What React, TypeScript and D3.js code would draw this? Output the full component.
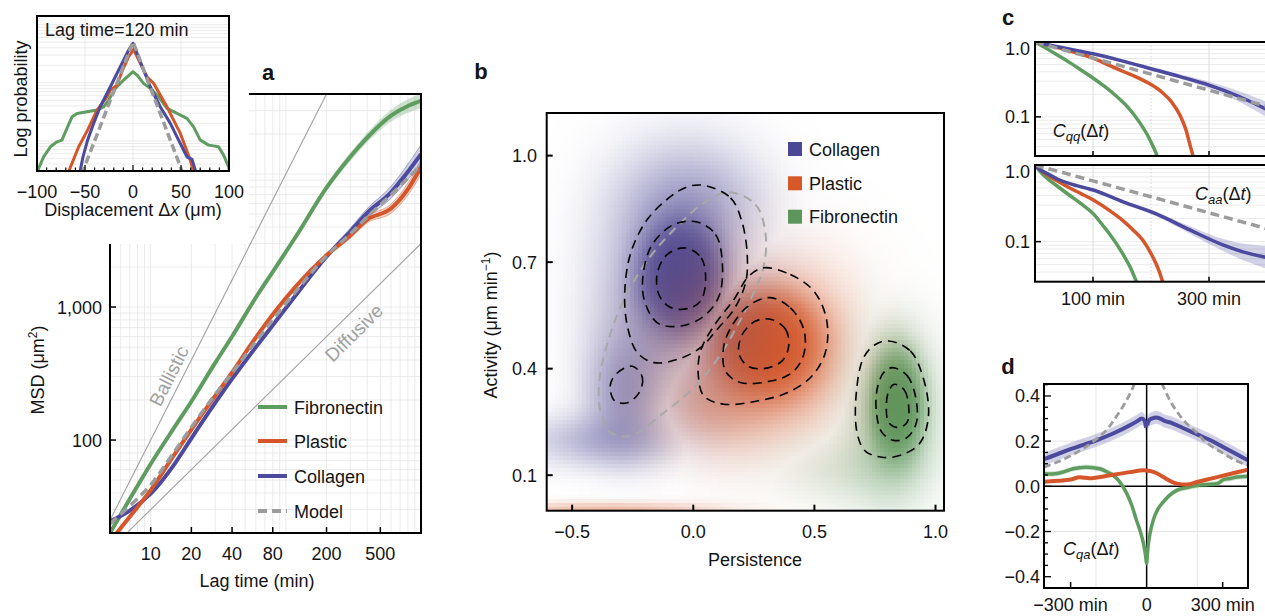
import React from 'react';
import * as d3 from 'd3';

const FONT = '"Liberation Sans", Arial, Helvetica, sans-serif';
const COL = '#4B4A9E';
const PLA = '#D5562A';
const FIB = '#5E9C60';
const MODEL = '#9c9c9c';
const GRID = '#e6e6e6';
const REF = '#a0a0a0';

// ---------------- Panel a : MSD ----------------
const msdLag = [5, 7, 10, 15, 20, 30, 40, 60, 80, 120, 200, 300, 400, 600, 800, 1000];
const msdFibronectin = [20, 36, 66, 125, 195, 380, 600, 1180, 1840, 3450, 7900, 13500, 18800, 27500, 32500, 35500];
const msdPlastic = [17.3, 26.5, 42, 78, 120, 215, 322, 590, 880, 1450, 2450, 3450, 4550, 5500, 7700, 11300];
const msdCollagen = [24.5, 29.5, 39.5, 66, 103, 190, 288, 500, 730, 1250, 2400, 3700, 5100, 7300, 10400, 14100];
const msdModel = [23.5, 32, 46, 82, 125, 220, 320, 550, 800, 1330, 2430, 3550, 4750, 7000, 9300, 11700];
const bandFibronectin = [0.01, 0.01, 0.01, 0.01, 0.01, 0.011, 0.012, 0.014, 0.016, 0.02, 0.026, 0.032, 0.037, 0.044, 0.05, 0.055];
const bandPlastic = [0.008, 0.008, 0.008, 0.008, 0.008, 0.008, 0.009, 0.01, 0.011, 0.012, 0.015, 0.02, 0.025, 0.035, 0.045, 0.055];
const bandCollagen = [0.008, 0.008, 0.008, 0.008, 0.008, 0.008, 0.009, 0.01, 0.012, 0.014, 0.018, 0.025, 0.033, 0.045, 0.058, 0.07];
const refLag = [4, 1200];
const ballisticMSD = [16, 1440000];
const diffusiveMSD = [12, 3600];
const lagTicks = [10, 20, 40, 80, 200, 500];
const msdTicks = [100, 1000];
const msdTickLabels = ['100', '1,000'];

// ---------------- Inset : displacement distribution ----------------
const dispCollagen = [-57, -54.9, -52.1, -47.3, -41, -34.1, -23.6, -13.2, -4.5, 0, 4.2, 11, 18, 28.4, 38.9, 45.8, 51, 56.2, 61.5, 64.9, 67];
const logpCollagen = [-3.75, -3.505, -3.276, -2.988, -2.7, -2.414, -2.069, -1.724, -1.436, -1.321, -1.493, -1.781, -2.069, -2.414, -2.7, -2.931, -3.103, -3.276, -3.32, -3.505, -3.75];
const dispPlastic = [-68, -66.4, -56.6, -47.3, -37.5, -32.3, -27.1, -23.6, -16.7, -11.5, -4.5, 0.6, 7.6, 14.6, 21.5, 28.4, 35.4, 42.3, 49.3, 54.5, 59.7, 62.5, 64];
const logpPlastic = [-3.7, -3.505, -3.103, -2.816, -2.471, -2.355, -2.241, -2.126, -2.04, -1.81, -1.552, -1.424, -1.666, -1.897, -2.01, -2.212, -2.414, -2.643, -2.873, -3.103, -3.333, -3.505, -3.7];
const dispFibronectin = [-100, -98.3, -93.1, -86.1, -79.2, -74, -68.8, -63.5, -58.3, -47.9, -37.5, -30.6, -25.4, -18.4, -9.8, 0, 4.2, 11, 18, 26.7, 35.4, 45.8, 56.2, 63.1, 70.1, 78.8, 89.2, 94.4, 99.6, 101];
const logpFibronectin = [-3.6, -3.476, -3.276, -3.103, -3.017, -2.988, -2.787, -2.586, -2.528, -2.5, -2.471, -2.414, -2.298, -2.097, -1.953, -1.81, -1.867, -2.01, -2.097, -2.241, -2.441, -2.528, -2.614, -2.759, -2.988, -3.074, -3.103, -3.247, -3.448, -3.55];
const dispModel = [-58, 0, 56];
const logpModel = [-3.77, -1.293, -3.735];
const dispTicks = [-100, -50, 0, 50, 100];

// ---------------- Panel b : persistence / activity ----------------
// density components per substrate: [persistence, activity, sdP, sdA, weight]
const collagenBlobs = [
  [-0.05, 0.66, 0.09, 0.085, 2.5],
  [-0.05, 0.65, 0.2, 0.2, 0.5],
  [-0.28, 0.33, 0.1, 0.1, 0.4],
  [-0.2, 0.45, 0.15, 0.15, 0.15],
  [-0.36, 0.2, 0.22, 0.05, 0.3],
  [0.0, 0.88, 0.2, 0.1, 0.2],
];
const plasticBlobs = [
  [0.3, 0.47, 0.12, 0.08, 2.5],
  [0.28, 0.45, 0.25, 0.17, 0.5],
  [0.05, 0.3, 0.15, 0.08, 0.3],
  [-0.35, 0.0, 0.3, 0.016, 0.35],
];
const fibronectinBlobs = [
  [0.84, 0.3, 0.055, 0.08, 2.5],
  [0.82, 0.28, 0.12, 0.15, 0.5],
  [0.6, 0.12, 0.2, 0.07, 0.15],
];
const collagenContours = [
  [[0.044, 0.916], [0.154, 0.881], [0.202, 0.811], [0.223, 0.717], [0.216, 0.642], [0.168, 0.567], [0.099, 0.511], [0.03, 0.459], [-0.066, 0.426], [-0.162, 0.417], [-0.231, 0.445], [-0.272, 0.52], [-0.283, 0.614], [-0.258, 0.726], [-0.19, 0.82], [-0.093, 0.885], [-0.025, 0.912]],
  [[0.016, 0.813], [0.092, 0.778], [0.12, 0.698], [0.106, 0.604], [0.044, 0.548], [-0.052, 0.52], [-0.148, 0.529], [-0.203, 0.595], [-0.206, 0.67], [-0.169, 0.75], [-0.08, 0.806]],
  [[-0.032, 0.74], [0.033, 0.712], [0.051, 0.651], [0.03, 0.59], [-0.025, 0.569], [-0.093, 0.572], [-0.142, 0.609], [-0.148, 0.67], [-0.107, 0.722]],
  [[-0.251, 0.407], [-0.21, 0.375], [-0.224, 0.332], [-0.272, 0.304], [-0.324, 0.309], [-0.343, 0.351], [-0.32, 0.384]],
];
const plasticContours = [
  [[0.291, 0.684], [0.401, 0.665], [0.497, 0.619], [0.55, 0.539], [0.545, 0.445], [0.484, 0.375], [0.387, 0.332], [0.264, 0.309], [0.126, 0.3], [0.044, 0.323], [0.021, 0.379], [0.03, 0.45], [0.085, 0.52], [0.168, 0.595], [0.23, 0.661]],
  [[0.319, 0.6], [0.401, 0.571], [0.456, 0.511], [0.456, 0.44], [0.408, 0.389], [0.319, 0.365], [0.195, 0.361], [0.133, 0.393], [0.126, 0.464], [0.168, 0.53], [0.236, 0.581]],
  [[0.319, 0.539], [0.381, 0.511], [0.394, 0.464], [0.367, 0.422], [0.291, 0.4], [0.223, 0.408], [0.188, 0.445], [0.202, 0.496], [0.257, 0.534]],
];
const fibronectinContours = [
  [[0.807, 0.478], [0.896, 0.45], [0.951, 0.37], [0.971, 0.267], [0.937, 0.192], [0.868, 0.159], [0.786, 0.15], [0.71, 0.168], [0.676, 0.22], [0.673, 0.332], [0.703, 0.431], [0.752, 0.468]],
  [[0.821, 0.403], [0.882, 0.381], [0.917, 0.323], [0.921, 0.248], [0.882, 0.206], [0.827, 0.198], [0.779, 0.22], [0.756, 0.276], [0.759, 0.342], [0.786, 0.389]],
  [[0.83, 0.356], [0.871, 0.34], [0.889, 0.295], [0.882, 0.248], [0.844, 0.234], [0.807, 0.248], [0.797, 0.295], [0.807, 0.337]],
];
const modelContour = [[0.147, 0.897], [0.257, 0.862], [0.298, 0.782], [0.291, 0.689], [0.243, 0.604], [0.181, 0.52], [0.099, 0.426], [0.003, 0.347], [-0.121, 0.276], [-0.258, 0.211], [-0.341, 0.22], [-0.385, 0.286], [-0.385, 0.379], [-0.341, 0.501], [-0.272, 0.614], [-0.176, 0.717], [-0.066, 0.801], [0.044, 0.867]];
const persTicks = [-0.5, 0, 0.5, 1.0];
const actTicks = [0.1, 0.4, 0.7, 1.0];

// ---------------- Panel c : autocorrelations ----------------
const cqqLagCollagen = [0, 25, 50, 75, 100, 150, 200, 250, 300, 350, 400, 420];
const cqqCollagen = [1, 0.91, 0.83, 0.76, 0.695, 0.56, 0.44, 0.345, 0.265, 0.19, 0.125, 0.105];
const cqqCollagenBand = [0, 0.005, 0.008, 0.01, 0.012, 0.016, 0.02, 0.03, 0.045, 0.07, 0.1, 0.11];
const cqqLagPlastic = [0, 25, 50, 75, 100, 125, 150, 175, 200, 220, 235, 250, 260, 268, 276];
const cqqPlastic = [1, 0.9, 0.8, 0.7, 0.61, 0.5, 0.41, 0.34, 0.27, 0.21, 0.16, 0.105, 0.068, 0.04, 0.024];
const cqqLagFibronectin = [0, 20, 40, 60, 80, 100, 120, 140, 160, 180, 195, 205, 216];
const cqqFibronectin = [1, 0.82, 0.66, 0.53, 0.42, 0.33, 0.255, 0.19, 0.135, 0.085, 0.055, 0.038, 0.024];
const cqqLagModel = [0, 100, 200, 300, 400, 420];
const cqqModel = [1, 0.61, 0.372, 0.227, 0.138, 0.125];

const caaLagCollagen = [0, 10, 20, 37, 60, 102, 152, 210, 267, 325, 360, 400, 420];
const caaCollagen = [1, 0.86, 0.78, 0.667, 0.57, 0.468, 0.33, 0.228, 0.142, 0.09, 0.073, 0.062, 0.058];
const caaCollagenBand = [0, 0.005, 0.007, 0.01, 0.012, 0.015, 0.02, 0.03, 0.05, 0.08, 0.11, 0.15, 0.17];
const caaLagPlastic = [0, 10, 20, 37, 60, 80, 102, 130, 152, 170, 187, 204, 212, 222];
const caaPlastic = [1, 0.85, 0.75, 0.63, 0.5, 0.42, 0.344, 0.25, 0.187, 0.14, 0.102, 0.061, 0.045, 0.027];
const caaLagFibronectin = [0, 10, 20, 37, 60, 80, 102, 115, 129, 152, 165, 175, 182];
const caaFibronectin = [1, 0.8, 0.68, 0.54, 0.4, 0.31, 0.225, 0.17, 0.125, 0.068, 0.045, 0.03, 0.023];
const caaLagModel = [0, 100, 200, 300, 400, 420];
const caaModel = [1, 0.62, 0.385, 0.238, 0.147, 0.133];
const corrTicks = [1.0, 0.1];
const corrLagTicks = [100, 300];

// ---------------- Panel d : cross-correlation ----------------
const cqaLagCollagenL = [-405, -330, -260, -198, -130, -66, -35, -20, -8, -2];
const cqaCollagenL = [0.12, 0.152, 0.18, 0.204, 0.235, 0.27, 0.29, 0.3, 0.29, 0.26];
const cqaLagCollagenR = [2, 8, 20, 40, 70, 100, 150, 200, 250, 300, 350, 400];
const cqaCollagenR = [0.27, 0.29, 0.3, 0.305, 0.29, 0.28, 0.255, 0.23, 0.205, 0.175, 0.145, 0.115];
const cqaLagModelL = [-405, -300, -198, -150, -119, -90, -70, -50, -35];
const cqaModelL = [0.085, 0.135, 0.21, 0.26, 0.31, 0.36, 0.4, 0.45, 0.5];
const cqaLagModelR = [40, 60, 92, 120, 159, 200, 225, 260, 304, 350, 400];
const cqaModelR = [0.5, 0.455, 0.38, 0.33, 0.277, 0.235, 0.204, 0.175, 0.145, 0.115, 0.093];
const cqaLagPlastic = [-405, -350, -300, -264, -225, -145, -66, -13, 13, 40, 66, 100, 119, 160, 198, 240, 278, 340, 400];
const cqaPlastic = [0.02, 0.025, 0.03, 0.04, 0.036, 0.049, 0.063, 0.071, 0.068, 0.058, 0.041, 0.02, 0.012, 0.008, 0.019, 0.03, 0.041, 0.058, 0.074];
const cqaLagFibronectin = [-405, -370, -330, -290, -238, -185, -150, -132, -110, -79, -60, -40, -25, -13, -5, 0, 3, 7, 15, 26, 45, 66, 90, 119, 160, 198, 240, 278, 304, 330, 357, 400];
const cqaFibronectin = [0.056, 0.055, 0.063, 0.078, 0.085, 0.078, 0.06, 0.049, 0.025, -0.03, -0.08, -0.15, -0.2, -0.25, -0.3, -0.342, -0.3, -0.254, -0.2, -0.15, -0.1, -0.069, -0.04, -0.018, -0.005, 0.004, 0.008, 0.012, 0.03, 0.035, 0.041, 0.045];
const cqaTicks = [0.4, 0.2, 0, -0.2, -0.4];
const cqaTickLabels = ['0.4', '0.2', '0.0', '\u22120.2', '\u22120.4'];
const cqaLagTicks = [-300, 0, 300];
const cqaLagTickLabels = ['\u2212300 min', '0', '300 min'];

function logGrid(lo: number, hi: number): number[] {
  const out: number[] = [];
  for (let e = Math.floor(Math.log10(lo)) - 1; e <= Math.ceil(Math.log10(hi)); e++) {
    for (let k = 1; k < 10; k++) {
      const v = k * Math.pow(10, e);
      if (v > lo * 1.001 && v < hi * 0.999) out.push(v);
    }
  }
  return out;
}

const T = (p: any) => <text fontFamily={FONT} fontSize={18} fill="#141414" {...p} />;

export default function App() {
  // ===== panel a =====
  const ax = d3.scaleLog().domain([5, 1000]).range([110, 421]);
  const ay = d3.scaleLog().domain([20, 40000]).range([533, 94]);
  const lineA = (vals: number[]) =>
    d3.line<number>().x((_, i) => ax(msdLag[i])).y((d) => ay(d)).curve(d3.curveMonotoneX)(vals) || '';
  const bandA = (vals: number[], err: number[]) =>
    d3.area<number>()
      .x((_, i) => ax(msdLag[i]))
      .y0((d, i) => ay(d / Math.pow(10, err[i])))
      .y1((d, i) => ay(d * Math.pow(10, err[i])))
      .curve(d3.curveMonotoneX)(vals) || '';
  const edgeA = (vals: number[], err: number[], s: number) =>
    d3.line<number>().x((_, i) => ax(msdLag[i])).y((d, i) => ay(d * Math.pow(10, s * err[i]))).curve(d3.curveMonotoneX)(vals) || '';
  const gridAx = logGrid(5, 1000);
  const gridAy = logGrid(20, 40000);
  const refLine = (vals: number[]) =>
    d3.line<number>().x((_, i) => ax(refLag[i])).y((d) => ay(d))(vals) || '';
  const balAng = (Math.atan2(ay(ballisticMSD[1]) - ay(ballisticMSD[0]), ax(refLag[1]) - ax(refLag[0])) * 180) / Math.PI;
  const difAng = (Math.atan2(ay(diffusiveMSD[1]) - ay(diffusiveMSD[0]), ax(refLag[1]) - ax(refLag[0])) * 180) / Math.PI;

  // ===== inset =====
  const ix = d3.scaleLinear().domain([-100, 100]).range([37, 229]);
  const iy = d3.scaleLinear().domain([-3.52, -0.85]).range([171, 16]);
  const lineI = (xs: number[], ys: number[]) =>
    d3.line<number>().x((d) => ix(d)).y((_, i) => iy(ys[i])).curve(d3.curveLinear)(xs) || '';
  const gridIy: number[] = [];
  for (let e = -4; e <= -1; e++) for (let k = 1; k < 10; k++) {
    const v = Math.log10(k) + e;
    if (v > -3.52 && v < -0.85) gridIy.push(v);
  }
  const dispMinor = d3.range(-90, 100, 10);

  // ===== panel b =====
  const bx = d3.scaleLinear().domain([-0.605, 1.035]).range([546.7, 944]);
  const by = d3.scaleLinear().domain([0, 1.12]).range([510.7, 113]);
  const nx = 100, ny = 100;
  const px0 = bx.domain()[0], px1 = bx.domain()[1];
  const py0 = by.domain()[0], py1 = by.domain()[1];
  const dens = (blobs: number[][], x: number, y: number) => {
    let s = 0;
    for (const [cx, cy, sx, sy, w] of blobs) s += w * Math.exp(-0.5 * (((x - cx) / sx) ** 2 + ((y - cy) / sy) ** 2));
    return 1 - Math.exp(-1.6 * s);
  };
  const cC = [74, 72, 148], cP = [214, 88, 40], cF = [92, 150, 92];
  const cells: { x: number; y: number; w: number; h: number; fill: string }[] = [];
  for (let i = 0; i < nx; i++) {
    const xa = px0 + ((px1 - px0) * i) / nx, xb = px0 + ((px1 - px0) * (i + 1)) / nx;
    const xm = (xa + xb) / 2;
    for (let j = 0; j < ny; j++) {
      const ya = py0 + ((py1 - py0) * j) / ny, yb = py0 + ((py1 - py0) * (j + 1)) / ny;
      const ym = (ya + yb) / 2;
      const a1 = dens(collagenBlobs, xm, ym);
      const a2 = dens(plasticBlobs, xm, ym);
      const a3 = dens(fibronectinBlobs, xm, ym);
      const s = a1 + a2 + a3 + 1e-9;
      const A = Math.max(a1, a2, a3);
      const mix = (k: number) => (a1 * cC[k] + a2 * cP[k] + a3 * cF[k]) / s;
      const r = A * mix(0) + (1 - A) * 255;
      const g = A * mix(1) + (1 - A) * 255;
      const b = A * mix(2) + (1 - A) * 255;
      cells.push({
        x: bx(xa), y: by(yb), w: bx(xb) - bx(xa) + 0.6, h: by(ya) - by(yb) + 0.6,
        fill: `rgb(${Math.round(r)},${Math.round(g)},${Math.round(b)})`,
      });
    }
  }
  const contourPath = (pts: number[][]) =>
    d3.line<number[]>().x((d) => bx(d[0])).y((d) => by(d[1])).curve(d3.curveCatmullRomClosed.alpha(0.5))(pts) || '';

  // ===== panel c =====
  const cx = d3.scaleLinear().domain([0, 410]).range([1035, 1272.8]);
  const cyU = d3.scaleLog().domain([0.03, 1]).range([156, 42]);
  const cyL = d3.scaleLog().domain([0.03, 1]).range([281.7, 165]);
  const lineC = (ys: d3.ScaleLogarithmic<number, number>, ts: number[], vs: number[]) =>
    d3.line<number>().x((_, i) => cx(ts[i])).y((d) => ys(d)).curve(d3.curveMonotoneX)(vs) || '';
  const bandC = (ys: d3.ScaleLogarithmic<number, number>, ts: number[], vs: number[], err: number[]) =>
    d3.area<number>().x((_, i) => cx(ts[i]))
      .y0((d, i) => ys(d / Math.pow(10, err[i])))
      .y1((d, i) => ys(Math.min(1.2, d * Math.pow(10, err[i]))))
      .curve(d3.curveMonotoneX)(vs) || '';
  const gridC = logGrid(0.03, 1);

  // ===== panel d =====
  const dx = d3.scaleLinear().domain([-405, 400]).range([1044, 1248]);
  const dy = d3.scaleLinear().domain([-0.45, 0.453]).range([588, 384]);
  const lineD = (ts: number[], vs: number[]) =>
    d3.line<number>().x((_, i) => dx(ts[i])).y((d) => dy(d)).curve(d3.curveMonotoneX)(vs) || '';
  const bandD = (ts: number[], vs: number[], e: number) =>
    d3.area<number>().x((_, i) => dx(ts[i])).y0((d) => dy(d - e)).y1((d) => dy(d + e)).curve(d3.curveMonotoneX)(vs) || '';
  const dMinor = d3.range(-0.45, 0.451, 0.05).map((v) => Math.round(v * 100) / 100);

  const legendA = [
    { name: 'Fibronectin', color: FIB, dash: '', y: 407 },
    { name: 'Plastic', color: PLA, dash: '', y: 441 },
    { name: 'Collagen', color: COL, dash: '', y: 476 },
    { name: 'Model', color: MODEL, dash: '9 5', y: 511 },
  ];
  const legendB = [
    { name: 'Collagen', color: `rgb(${cC.join(',')})`, y: 149 },
    { name: 'Plastic', color: `rgb(${cP.join(',')})`, y: 183.3 },
    { name: 'Fibronectin', color: `rgb(${cF.join(',')})`, y: 216.7 },
  ];

  return (
    <svg width={1265} height={616} viewBox="0 0 1265 616" style={{ position: 'absolute', left: 0, top: 0, background: '#fff' }}>
      <defs>
        <clipPath id="clipA"><rect x={110} y={94} width={311} height={439} /></clipPath>
        <clipPath id="clipI"><rect x={37} y={16} width={192} height={155} /></clipPath>
        <clipPath id="clipB"><rect x={546.7} y={113} width={397.3} height={397.7} /></clipPath>
        <clipPath id="clipCU"><rect x={1035} y={42} width={240} height={114} /></clipPath>
        <clipPath id="clipCL"><rect x={1035} y={165} width={240} height={116.7} /></clipPath>
        <clipPath id="clipD"><rect x={1044} y={384} width={204} height={204} /></clipPath>
      </defs>
      <rect x={0} y={0} width={1265} height={616} fill="#fff" />

      {/* ================= Panel a ================= */}
      <g clipPath="url(#clipA)">
        {gridAx.map((t) => <line key={'gx' + t} x1={ax(t)} x2={ax(t)} y1={94} y2={533} stroke={GRID} strokeWidth={0.8} />)}
        {gridAy.map((m) => <line key={'gy' + m} x1={110} x2={421} y1={ay(m)} y2={ay(m)} stroke={GRID} strokeWidth={0.8} />)}
        <path d={refLine(ballisticMSD)} stroke={REF} strokeWidth={1.1} fill="none" />
        <path d={refLine(diffusiveMSD)} stroke={REF} strokeWidth={1.1} fill="none" />
        <path d={bandA(msdFibronectin, bandFibronectin)} fill={FIB} opacity={0.3} />
        <path d={bandA(msdPlastic, bandPlastic)} fill={PLA} opacity={0.25} />
        <path d={edgeA(msdPlastic, bandPlastic, 1)} stroke={PLA} strokeWidth={0.7} opacity={0.6} fill="none" />
        <path d={edgeA(msdPlastic, bandPlastic, -1)} stroke={PLA} strokeWidth={0.7} opacity={0.6} fill="none" />
        <path d={bandA(msdCollagen, bandCollagen)} fill={COL} opacity={0.25} />
        <path d={edgeA(msdCollagen, bandCollagen, 1)} stroke={COL} strokeWidth={0.7} opacity={0.6} fill="none" />
        <path d={edgeA(msdCollagen, bandCollagen, -1)} stroke={COL} strokeWidth={0.7} opacity={0.6} fill="none" />
        <path d={lineA(msdFibronectin)} stroke={FIB} strokeWidth={4} fill="none" />
        <path d={lineA(msdCollagen)} stroke={COL} strokeWidth={4} fill="none" />
        <path d={lineA(msdPlastic)} stroke={PLA} strokeWidth={4} fill="none" />
        <path d={lineA(msdModel)} stroke={MODEL} strokeWidth={3.5} strokeDasharray="9 5" fill="none" />
      </g>
      <T x={169} y={376} fontSize={19} fill={REF} textAnchor="middle" dominantBaseline="central" transform={`rotate(${balAng} 169 376)`}>Ballistic</T>
      <T x={354} y={333} fontSize={19} fill={REF} textAnchor="middle" dominantBaseline="central" transform={`rotate(${difAng} 354 333)`}>Diffusive</T>
      {legendA.map((l) => (
        <g key={l.name}>
          <line x1={258} x2={287} y1={l.y} y2={l.y} stroke={l.color} strokeWidth={4} strokeDasharray={l.dash || undefined} />
          <T x={294} y={l.y + 6.5}>{l.name}</T>
        </g>
      ))}
      <rect x={110} y={94} width={311} height={439} fill="none" stroke="#000" strokeWidth={2} />
      {lagTicks.map((t) => (
        <g key={'lt' + t}>
          <line x1={ax(t)} x2={ax(t)} y1={533} y2={527} stroke="#000" strokeWidth={1.5} />
          <T x={ax(t)} y={560} textAnchor="middle">{t}</T>
        </g>
      ))}
      {msdTicks.map((m, i) => (
        <g key={'mt' + m}>
          <line x1={110} x2={116} y1={ay(m)} y2={ay(m)} stroke="#000" strokeWidth={1.5} />
          <T x={102} y={ay(m) + 6.5} textAnchor="end">{msdTickLabels[i]}</T>
        </g>
      ))}
      <T x={257} y={587} textAnchor="middle">Lag time (min)</T>
      <T x={0} y={0} textAnchor="middle" transform="translate(44 370) rotate(-90)">MSD (μm<tspan fontSize={12} dy={-7}>2</tspan><tspan dy={7}>)</tspan></T>
      <T x={268} y={80} fontSize={22} fontWeight="bold" textAnchor="middle">a</T>

      {/* white cover behind inset */}
      <rect x={0} y={0} width={249} height={244} fill="#fff" />

      {/* ================= Inset ================= */}
      <g clipPath="url(#clipI)">
        {gridIy.map((v) => <line key={'iy' + v} x1={37} x2={229} y1={iy(v)} y2={iy(v)} stroke={GRID} strokeWidth={0.8} />)}
        {[-50, 0, 50].map((v) => <line key={'ix' + v} x1={ix(v)} x2={ix(v)} y1={16} y2={171} stroke={GRID} strokeWidth={0.8} />)}
        <path d={lineI(dispFibronectin, logpFibronectin)} stroke={FIB} strokeWidth={3} fill="none" strokeLinejoin="round" />
        <path d={lineI(dispPlastic, logpPlastic)} stroke={PLA} strokeWidth={3} fill="none" strokeLinejoin="round" />
        <path d={lineI(dispCollagen, logpCollagen)} stroke={COL} strokeWidth={3} fill="none" strokeLinejoin="round" />
        <path d={lineI(dispModel, logpModel)} stroke={MODEL} strokeWidth={3.5} strokeDasharray="8 4" fill="none" />
      </g>
      <rect x={37} y={16} width={192} height={155} fill="none" stroke="#000" strokeWidth={2} />
      {dispMinor.map((v) => (
        <line key={'im' + v} x1={ix(v)} x2={ix(v)} y1={171} y2={v % 50 === 0 ? 165 : 167.5} stroke="#000" strokeWidth={1.2} />
      ))}
      {dispTicks.map((v) => (
        <T key={'il' + v} x={ix(v)} y={198} textAnchor="middle">{v < 0 ? '\u2212' + Math.abs(v) : v}</T>
      ))}
      <T x={45} y={36}>Lag time=120 min</T>
      <T x={133} y={216} textAnchor="middle">Displacement Δ<tspan fontStyle="italic">x</tspan> (μm)</T>
      <T x={0} y={0} textAnchor="middle" transform="translate(27 99) rotate(-90)">Log probability</T>

      {/* ================= Panel b ================= */}
      <g clipPath="url(#clipB)" shapeRendering="crispEdges">
        {cells.map((c, k) => <rect key={k} x={c.x} y={c.y} width={c.w} height={c.h} fill={c.fill} />)}
      </g>
      <g clipPath="url(#clipB)" fill="none">
        <path d={contourPath(modelContour)} stroke="#a8a8a8" strokeWidth={2} strokeDasharray="9 6" />
        {[...collagenContours, ...plasticContours, ...fibronectinContours].map((c, k) => (
          <path key={'ct' + k} d={contourPath(c)} stroke="#000" strokeWidth={1.6} strokeDasharray="9 6" />
        ))}
      </g>
      <rect x={546.7} y={113} width={397.3} height={397.7} fill="none" stroke="#000" strokeWidth={2} />
      {persTicks.map((v) => (
        <g key={'pt' + v}>
          <line x1={bx(v)} x2={bx(v)} y1={510.7} y2={504.7} stroke="#000" strokeWidth={2} />
          <T x={bx(v)} y={538} textAnchor="middle">{v < 0 ? '\u2212' + Math.abs(v).toFixed(1) : v.toFixed(1)}</T>
        </g>
      ))}
      {actTicks.map((v) => (
        <g key={'at' + v}>
          <line x1={546.7} x2={552.7} y1={by(v)} y2={by(v)} stroke="#000" strokeWidth={2} />
          <T x={537} y={by(v) + 6.5} textAnchor="end">{v.toFixed(1)}</T>
        </g>
      ))}
      {legendB.map((l) => (
        <g key={'lb' + l.name}>
          <rect x={788} y={l.y - 7} width={14} height={14} fill={l.color} />
          <T x={809} y={l.y + 6.5}>{l.name}</T>
        </g>
      ))}
      <T x={755} y={566} textAnchor="middle">Persistence</T>
      <T x={0} y={0} textAnchor="middle" transform="translate(497 325) rotate(-90)">Activity (μm min<tspan fontSize={12} dy={-7}>−1</tspan><tspan dy={7}>)</tspan></T>
      <T x={481} y={79} fontSize={22} fontWeight="bold" textAnchor="middle">b</T>

      {/* ================= Panel c ================= */}
      {[{ ys: cyU, top: 42, bot: 156, clip: 'url(#clipCU)' }, { ys: cyL, top: 165, bot: 281.7, clip: 'url(#clipCL)' }].map((p, pi) => (
        <g key={'cp' + pi}>
          <g clipPath={p.clip}>
            {gridC.map((v) => <line key={'cg' + v} x1={1035} x2={1275} y1={p.ys(v)} y2={p.ys(v)} stroke={GRID} strokeWidth={0.8} />)}
            {corrLagTicks.map((t) => <line key={'cv' + t} x1={cx(t)} x2={cx(t)} y1={p.top} y2={p.bot} stroke="#dcdcdc" strokeWidth={1} />)}
            <line x1={cx(200)} x2={cx(200)} y1={p.top} y2={p.bot} stroke="#d4d4d4" strokeWidth={1} strokeDasharray="1.5 2" />
            {pi === 0 ? (
              <g fill="none">
                <path d={bandC(cyU, cqqLagCollagen, cqqCollagen, cqqCollagenBand)} fill={COL} opacity={0.25} />
                <path d={lineC(cyU, cqqLagFibronectin, cqqFibronectin)} stroke={FIB} strokeWidth={3.5} opacity={1} />
                <path d={lineC(cyU, cqqLagPlastic, cqqPlastic)} stroke={PLA} strokeWidth={3.5} />
                <path d={lineC(cyU, cqqLagCollagen, cqqCollagen)} stroke={COL} strokeWidth={3.5} />
                <path d={lineC(cyU, cqqLagModel, cqqModel)} stroke={MODEL} strokeWidth={3.5} strokeDasharray="9 5" />
              </g>
            ) : (
              <g fill="none">
                <path d={bandC(cyL, caaLagCollagen, caaCollagen, caaCollagenBand)} fill={COL} opacity={0.25} />
                <path d={lineC(cyL, caaLagFibronectin, caaFibronectin)} stroke={FIB} strokeWidth={3.5} />
                <path d={lineC(cyL, caaLagPlastic, caaPlastic)} stroke={PLA} strokeWidth={3.5} />
                <path d={lineC(cyL, caaLagCollagen, caaCollagen)} stroke={COL} strokeWidth={3.5} />
                <path d={lineC(cyL, caaLagModel, caaModel)} stroke={MODEL} strokeWidth={3.5} strokeDasharray="9 5" />
              </g>
            )}
          </g>
          <rect x={1035} y={p.top} width={250} height={p.bot - p.top} fill="none" stroke="#000" strokeWidth={2} />
          {corrTicks.map((v) => (
            <g key={'ctk' + v}>
              <line x1={1035} x2={1041} y1={p.ys(v)} y2={p.ys(v)} stroke="#000" strokeWidth={1.5} />
              <T x={1030} y={p.ys(v) + 6.5 + (v === 1 ? 6 : 0)} textAnchor="end">{v.toFixed(1)}</T>
            </g>
          ))}
          {corrLagTicks.map((t) => (
            <line key={'clt' + t} x1={cx(t)} x2={cx(t)} y1={p.bot} y2={p.bot - 5} stroke="#000" strokeWidth={1.5} />
          ))}
        </g>
      ))}
      {corrLagTicks.map((t) => (
        <T key={'cll' + t} x={cx(t)} y={305} textAnchor="middle">{t} min</T>
      ))}
      <T x={1052.7} y={136.7}><tspan fontStyle="italic">C</tspan><tspan fontStyle="italic" fontSize={13} dy={4}>qq</tspan><tspan dy={-4}>(Δ</tspan><tspan fontStyle="italic">t</tspan>)</T>
      <T x={1195} y={200}><tspan fontStyle="italic">C</tspan><tspan fontStyle="italic" fontSize={13} dy={4}>aa</tspan><tspan dy={-4}>(Δ</tspan><tspan fontStyle="italic">t</tspan>)</T>
      <T x={1008} y={25} fontSize={22} fontWeight="bold" textAnchor="middle">c</T>

      {/* ================= Panel d ================= */}
      <g clipPath="url(#clipD)" fill="none">
        {[-200, 200].map((t) => <line key={'dgx' + t} x1={dx(t)} x2={dx(t)} y1={384} y2={588} stroke={GRID} strokeWidth={1} />)}
        {[-0.2, 0.2].map((v) => <line key={'dgy' + v} x1={1044} x2={1248} y1={dy(v)} y2={dy(v)} stroke={GRID} strokeWidth={1} />)}
        <line x1={1044} x2={1248} y1={dy(0)} y2={dy(0)} stroke="#000" strokeWidth={1.5} />
        <line x1={dx(0)} x2={dx(0)} y1={384} y2={588} stroke="#000" strokeWidth={1.5} />
        <path d={bandD(cqaLagCollagenL, cqaCollagenL, 0.028)} fill={COL} opacity={0.25} stroke={COL} strokeOpacity={0.35} strokeWidth={0.8} />
        <path d={bandD(cqaLagCollagenR, cqaCollagenR, 0.028)} fill={COL} opacity={0.25} stroke={COL} strokeOpacity={0.35} strokeWidth={0.8} />
        <path d={bandD(cqaLagFibronectin, cqaFibronectin, 0.012)} fill={FIB} opacity={0.25} />
        <path d={lineD(cqaLagFibronectin, cqaFibronectin)} stroke={FIB} strokeWidth={3.5} />
        <path d={lineD(cqaLagPlastic, cqaPlastic)} stroke={PLA} strokeWidth={4} />
        <path d={lineD(cqaLagCollagenL, cqaCollagenL)} stroke={COL} strokeWidth={4} />
        <path d={lineD(cqaLagCollagenR, cqaCollagenR)} stroke={COL} strokeWidth={4} />
        <path d={lineD(cqaLagModelL, cqaModelL)} stroke={MODEL} strokeWidth={2.8} strokeDasharray="7 4" />
        <path d={lineD(cqaLagModelR, cqaModelR)} stroke={MODEL} strokeWidth={2.8} strokeDasharray="7 4" />
      </g>
      <rect x={1044} y={384} width={204} height={204} fill="none" stroke="#000" strokeWidth={2} />
      {dMinor.map((v) => (
        <line key={'dm' + v} x1={1044} x2={Math.abs(Math.round(v * 100)) % 20 === 0 ? 1051 : 1048} y1={dy(v)} y2={dy(v)} stroke="#000" strokeWidth={1.3} />
      ))}
      {cqaTicks.map((v, i) => (
        <T key={'dyl' + v} x={1040} y={dy(v) + 6.5} textAnchor="end">{cqaTickLabels[i]}</T>
      ))}
      {cqaLagTicks.map((t, i) => (
        <g key={'dxl' + t}>
          {t !== 0 && <line x1={dx(t)} x2={dx(t)} y1={588} y2={582} stroke="#000" strokeWidth={1.5} />}
          <T x={dx(t)} y={611} textAnchor="middle">{cqaLagTickLabels[i]}</T>
        </g>
      ))}
      <T x={1063} y={555}><tspan fontStyle="italic">C</tspan><tspan fontStyle="italic" fontSize={13} dy={4}>qa</tspan><tspan dy={-4}>(Δ</tspan><tspan fontStyle="italic">t</tspan>)</T>
      <T x={1008} y={374} fontSize={22} fontWeight="bold" textAnchor="middle">d</T>
    </svg>
  );
}
